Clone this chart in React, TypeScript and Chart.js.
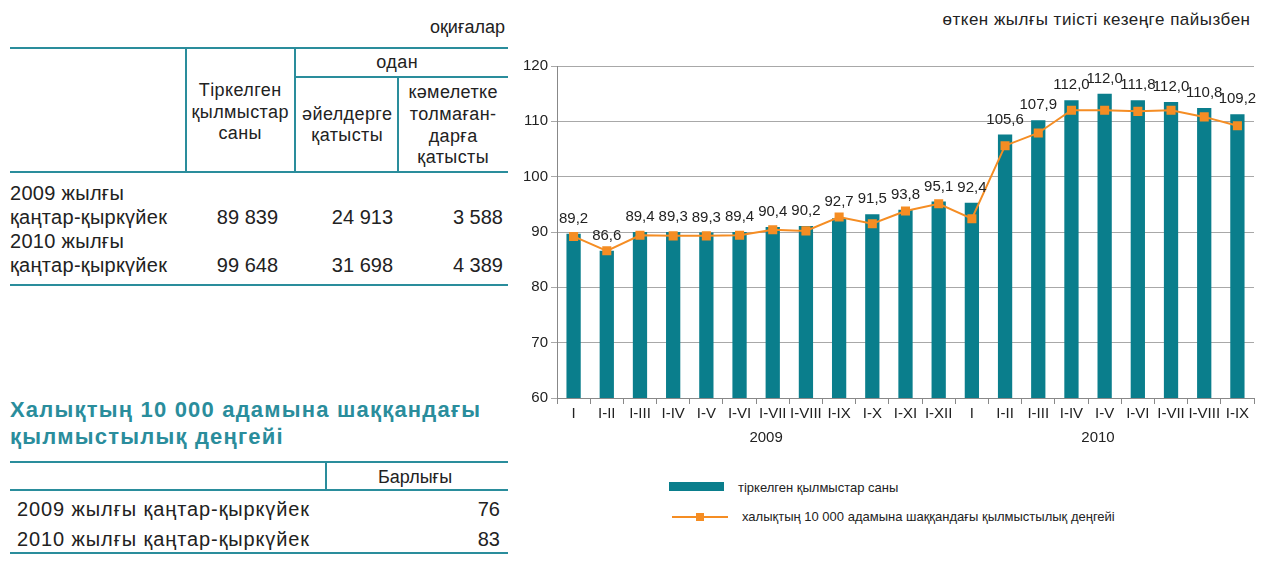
import React, { useEffect, useRef } from "react";
import { Chart, registerables } from "chart.js";
Chart.register(...registerables);

const categories = ["I", "I-II", "I-III", "I-IV", "I-V", "I-VI", "I-VII", "I-VIII", "I-IX", "I-X", "I-XI", "I-XII", "I", "I-II", "I-III", "I-IV", "I-V", "I-VI", "I-VII", "I-VIII", "I-IX"];
const registeredCrimes = [89.7, 86.6, 90.0, 90.0, 89.9, 90.0, 90.9, 91.1, 92.5, 93.2, 94.0, 95.5, 95.3, 107.6, 110.2, 113.8, 115.0, 113.8, 113.5, 112.4, 111.3];
const crimeRate = [89.2, 86.6, 89.4, 89.3, 89.3, 89.4, 90.4, 90.2, 92.7, 91.5, 93.8, 95.1, 92.4, 105.6, 107.9, 112.0, 112.0, 111.8, 112.0, 110.8, 109.2];
const years = ["2009", "2010"];
const yearCenters = [5.8, 15.8];
const yMin = 60;
const yMax = 120;
const yStep = 10;

const TEAL = "#0a7e8c";
const ORANGE = "#f58d23";
const LINE_TEAL = "#2a8d9c";
const FONT = "'Liberation Sans', Arial, Helvetica, sans-serif";
const TEXT = "#222";

const labelPlugin = {
  id: "valueLabels",
  afterDatasetsDraw(chart: any) {
    const ctx = chart.ctx;
    const bars = chart.getDatasetMeta(0).data;
    const pts = chart.getDatasetMeta(1).data;
    ctx.save();
    ctx.font = `15px ${FONT}`;
    ctx.fillStyle = TEXT;
    ctx.textAlign = "center";
    ctx.textBaseline = "middle";
    crimeRate.forEach((v, i) => {
      const top = Math.min(bars[i].y, pts[i].y);
      ctx.fillText(v.toFixed(1).replace(".", ","), pts[i].x, top - 15);
    });
    const xs = chart.scales.x;
    const step = xs.getPixelForValue(1) - xs.getPixelForValue(0);
    years.forEach((y, i) => {
      const x = xs.getPixelForValue(0) + yearCenters[i] * step;
      ctx.fillText(y, x, chart.chartArea.bottom + 40);
    });
    ctx.restore();
  },
};

function ChartCanvas() {
  const ref = useRef<HTMLCanvasElement>(null);
  useEffect(() => {
    if (!ref.current) return;
    const chart = new Chart(ref.current, {
      type: "bar",
      data: {
        labels: categories,
        datasets: [
          {
            type: "bar",
            label: "тіркелген қылмыстар саны",
            data: registeredCrimes,
            backgroundColor: TEAL,
            barPercentage: 0.43,
            categoryPercentage: 1,
            order: 2,
          },
          {
            type: "line",
            label: "халықтың 10 000 адамына шаққандағы қылмыстылық деңгейі",
            data: crimeRate,
            borderColor: ORANGE,
            borderWidth: 2,
            pointStyle: "rect",
            pointRadius: 5,
            pointBackgroundColor: ORANGE,
            pointBorderColor: ORANGE,
            tension: 0,
            order: 1,
          } as any,
        ],
      },
      options: {
        animation: false,
        responsive: false,
        maintainAspectRatio: false,
        layout: { padding: { top: 26, right: 7, left: 0, bottom: 0 } },
        plugins: { legend: { display: false }, tooltip: { enabled: false } },
        scales: {
          x: {
            afterFit: (s: any) => { s.height = 62; },
            grid: { offset: true, drawOnChartArea: false, tickLength: 6, color: "#888" },
            border: { display: true, color: "#888" },
            ticks: { font: { size: 15, family: FONT }, color: TEXT, padding: 1, maxRotation: 0, autoSkip: false },
          },
          y: {
            min: yMin,
            max: yMax,
            afterFit: (s: any) => { s.width = 47; },
            grid: { color: "#a8a8a8", tickLength: 6 },
            border: { display: true, color: "#888" },
            ticks: { stepSize: yStep, font: { size: 15, family: FONT }, color: TEXT, padding: 3 },
          },
        },
      },
      plugins: [labelPlugin],
    });
    return () => chart.destroy();
  }, []);
  return (
    <canvas
      ref={ref}
      width={751}
      height={420}
      style={{ position: "absolute", left: 510, top: 40, width: 751, height: 420 }}
    />
  );
}

function T(props: { x: number; y: number; size: number; children: any; align?: "left" | "right" | "center"; ls?: number; bold?: boolean; color?: string }) {
  const { x, y, size, align = "left", ls = 0, bold, color = TEXT } = props;
  const lh = size * 1.25;
  const style: any = {
    position: "absolute",
    top: y - lh / 2,
    fontSize: size,
    lineHeight: `${lh}px`,
    whiteSpace: "nowrap",
    fontWeight: bold ? "bold" : "normal",
    letterSpacing: ls,
    color,
  };
  if (align === "left") style.left = x;
  else if (align === "right") { style.right = 1261 - x - ls; }
  else { style.left = x - 200 + ls / 2; style.width = 400; style.textAlign = "center"; }
  return <div style={style}>{props.children}</div>;
}

function HLine({ x1, x2, y, t = 2 }: { x1: number; x2: number; y: number; t?: number }) {
  return <div style={{ position: "absolute", left: x1, top: y - t / 2, width: x2 - x1, height: t, background: LINE_TEAL }} />;
}
function VLine({ x, y1, y2, t = 2 }: { x: number; y1: number; y2: number; t?: number }) {
  return <div style={{ position: "absolute", left: x - t / 2, top: y1, width: t, height: y2 - y1, background: LINE_TEAL }} />;
}

export default function App() {
  const H = 18;
  const HL = 0.4;
  const R = 20;
  const RL = 0.3;
  return (
    <div style={{ position: "fixed", left: 0, top: 0, width: 1261, height: 572, background: "#fff", fontFamily: FONT, color: TEXT, overflow: "hidden" }}>
      {/* Table 1 */}
      <T x={505} y={27} size={18} align="right">оқиғалар</T>
      <HLine x1={10} x2={508} y={48} />
      <VLine x={186} y1={48} y2={172} />
      <VLine x={295} y1={48} y2={172} />
      <HLine x1={295} x2={508} y={77} />
      <VLine x={398} y1={77} y2={172} />
      <HLine x1={10} x2={508} y={172} />
      <T x={397} y={62} size={H} ls={HL} align="center">одан</T>
      <T x={240} y={90} size={H} ls={HL} align="center">Тіркелген</T>
      <T x={240} y={112} size={H} ls={HL} align="center">қылмыстар</T>
      <T x={240} y={133} size={H} ls={HL} align="center">саны</T>
      <T x={347} y={114} size={H} ls={HL} align="center">әйелдерге</T>
      <T x={347} y={135} size={H} ls={HL} align="center">қатысты</T>
      <T x={453} y={92} size={H} ls={HL} align="center">кәмелетке</T>
      <T x={453} y={114} size={H} ls={HL} align="center">толмаған-</T>
      <T x={453} y={136} size={H} ls={HL} align="center">дарға</T>
      <T x={453} y={157} size={H} ls={HL} align="center">қатысты</T>
      <T x={10} y={193} size={R} ls={RL}>2009 жылғы</T>
      <T x={10} y={217} size={R} ls={RL}>қаңтар-қыркүйек</T>
      <T x={278} y={217} size={R} align="right">89 839</T>
      <T x={393} y={217} size={R} align="right">24 913</T>
      <T x={503} y={217} size={R} align="right">3 588</T>
      <T x={10} y={241} size={R} ls={RL}>2010 жылғы</T>
      <T x={10} y={265} size={R} ls={RL}>қаңтар-қыркүйек</T>
      <T x={278} y={265} size={R} align="right">99 648</T>
      <T x={393} y={265} size={R} align="right">31 698</T>
      <T x={503} y={265} size={R} align="right">4 389</T>
      <HLine x1={10} x2={508} y={285} />

      {/* Title + Table 2 */}
      <T x={10} y={410} size={22} ls={1.2} bold color={LINE_TEAL}>Халықтың 10 000 адамына шаққандағы</T>
      <T x={10} y={437} size={22} ls={1.2} bold color={LINE_TEAL}>қылмыстылық деңгейі</T>
      <HLine x1={10} x2={508} y={462} />
      <VLine x={326} y1={462} y2={490} />
      <HLine x1={10} x2={508} y={490} />
      <T x={415} y={477} size={18} align="center">Барлығы</T>
      <T x={17} y={509} size={20} ls={0.9}>2009 жылғы қаңтар-қыркүйек</T>
      <T x={500} y={509} size={20} align="right">76</T>
      <T x={17} y={539} size={20} ls={0.9}>2010 жылғы қаңтар-қыркүйек</T>
      <T x={500} y={539} size={20} align="right">83</T>
      <HLine x1={10} x2={508} y={553} />

      {/* Chart */}
      <T x={1250} y={20} size={17} ls={0.5} align="right">өткен жылғы тиісті кезеңге пайызбен</T>
      <ChartCanvas />

      {/* Legend */}
      <div style={{ position: "absolute", left: 669, top: 482, width: 55, height: 9, background: TEAL }} />
      <T x={738} y={488} size={13}>тіркелген қылмыстар саны</T>
      <div style={{ position: "absolute", left: 672, top: 516, width: 56, height: 1.5, background: ORANGE }} />
      <div style={{ position: "absolute", left: 696, top: 513, width: 8, height: 8, background: ORANGE }} />
      <T x={742} y={517} size={13}>халықтың 10 000 адамына шаққандағы қылмыстылық деңгейі</T>
    </div>
  );
}
